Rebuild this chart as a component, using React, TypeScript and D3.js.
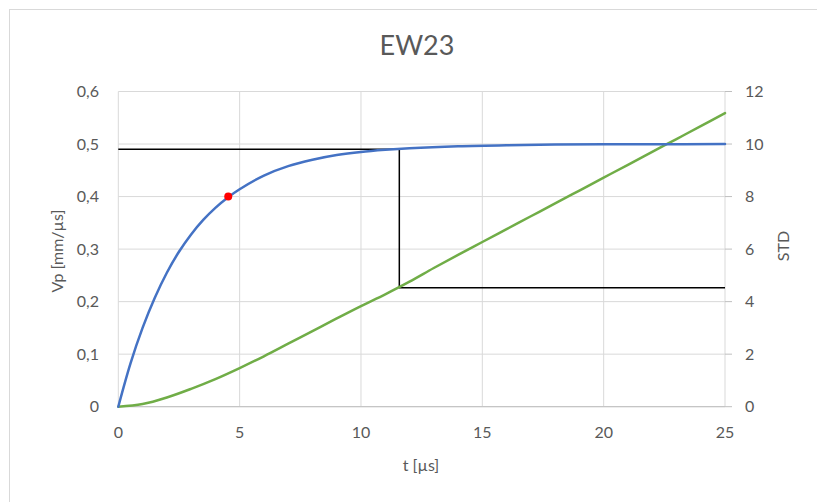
import React from "react";
import * as d3 from "d3";

const title = "EW23";
const xLabel = "t [µs]";
const yLeftLabel = "Vp  [mm/µs]";
const yRightLabel = "STD";

const xTicks = [0, 5, 10, 15, 20, 25];
const yLeftTicks = [0, 0.1, 0.2, 0.3, 0.4, 0.5, 0.6];
const yRightTicks = [0, 2, 4, 6, 8, 10, 12];

// Vp series (blue)
const vpT = [0, 0.5, 1, 1.5, 2, 2.5, 3, 3.5, 4, 4.5, 5, 6, 7, 8, 9, 10, 11, 12, 14, 16, 18, 20, 22, 25];
const vpV = [0, 0.082, 0.15, 0.207, 0.255, 0.295, 0.328, 0.3556, 0.3786, 0.3979, 0.414, 0.44, 0.458, 0.47, 0.479, 0.485, 0.489, 0.492, 0.4958, 0.4978, 0.4989, 0.4994, 0.4997, 0.4999];

// STD series (green, right axis)
const stdT = [0, 1, 2, 3, 4, 5, 6, 7, 8, 9, 10, 11, 12, 13, 14, 15, 16, 17, 18, 19, 20, 21, 22, 23, 24, 25];
const stdV = [0, 0.1, 0.35, 0.68, 1.05, 1.47, 1.92, 2.4, 2.88, 3.36, 3.83, 4.28, 4.76, 5.28, 5.78, 6.27, 6.76, 7.25, 7.74, 8.23, 8.72, 9.21, 9.7, 10.19, 10.68, 11.18];

// Black step marker line (left axis units)
const stepT = [0, 11.58, 11.58, 25];
const stepV = [0.49, 0.49, 0.2265, 0.2265];

// Red point
const pointT = [4.53];
const pointV = [0.4];

const W = 817;
const H = 502;
const FONT = "Lato, 'Open Sans', 'Liberation Sans', sans-serif";
const TXT = "#595959";

export default function App() {
  const x = d3.scaleLinear().domain([0, 25]).range([118.3, 725]);
  const yL = d3.scaleLinear().domain([0, 0.6]).range([406.7, 91.5]);
  const yR = d3.scaleLinear().domain([0, 12]).range([406.7, 91.5]);

  const vpLine = d3
    .line<number>()
    .x((_, i) => x(vpT[i]))
    .y((d) => yL(d))
    .curve(d3.curveCatmullRom.alpha(0.5));
  const stdLine = d3
    .line<number>()
    .x((_, i) => x(stdT[i]))
    .y((d) => yR(d))
    .curve(d3.curveCatmullRom.alpha(0.5));
  const stepLine = d3
    .line<number>()
    .x((_, i) => x(stepT[i]))
    .y((d) => yL(d));

  const fmt = (v: number) => String(Math.round(v * 10) / 10).replace(".", ",");

  return (
    <svg
      width={W}
      height={H}
      style={{ position: "absolute", left: 0, top: 0, display: "block", background: "#fff" }}
    >
      <rect x={9.5} y={9.5} width={900} height={600} fill="#fff" stroke="#d9d9d9" />
      <text x={417} y={55} textAnchor="middle" fontFamily={FONT} fontSize={27} fill={TXT}>
        {title}
      </text>

      {/* grid */}
      {xTicks.map((t) => (
        <line key={"gx" + t} x1={x(t)} x2={x(t)} y1={yL(0.6)} y2={yL(0)} stroke="#d9d9d9" strokeWidth={1} />
      ))}
      {yLeftTicks.map((v) => (
        <line key={"gy" + v} x1={x(0)} x2={x(25)} y1={yL(v)} y2={yL(v)} stroke="#d9d9d9" strokeWidth={1} />
      ))}
      <line x1={x(0)} x2={x(25)} y1={yL(0)} y2={yL(0)} stroke="#bfbfbf" strokeWidth={1} />
      {yRightTicks.map((v) => (
        <line key={"rt" + v} x1={x(25)} x2={x(25) + 7} y1={yR(v)} y2={yR(v)} stroke="#bfbfbf" strokeWidth={1} />
      ))}

      {/* tick labels */}
      {yLeftTicks.map((v) => (
        <text key={"ly" + v} x={99} y={yL(v) + 5.5} textAnchor="end" fontFamily={FONT} fontSize={16} fill={TXT}>
          {fmt(v)}
        </text>
      ))}
      {yRightTicks.map((v) => (
        <text key={"ry" + v} x={745} y={yR(v) + 5.5} textAnchor="start" fontFamily={FONT} fontSize={16} fill={TXT}>
          {v}
        </text>
      ))}
      {xTicks.map((t) => (
        <text key={"lx" + t} x={x(t)} y={438} textAnchor="middle" fontFamily={FONT} fontSize={16} fill={TXT}>
          {t}
        </text>
      ))}

      {/* axis titles */}
      <text x={421} y={471} textAnchor="middle" fontFamily={FONT} fontSize={16} fill={TXT}>
        {xLabel}
      </text>
      <text
        transform={`translate(63,${yL(0.3) + 2}) rotate(-90)`}
        textAnchor="middle"
        fontFamily={FONT}
        fontSize={16}
        fill={TXT}
      >
        {yLeftLabel}
      </text>
      <text
        transform={`translate(789,${yR(6) - 3}) rotate(-90)`}
        textAnchor="middle"
        fontFamily={FONT}
        fontSize={16}
        fill={TXT}
      >
        {yRightLabel}
      </text>

      {/* series */}
      <path d={stepLine(stepV) || ""} fill="none" stroke="#000" strokeWidth={1.5} />
      <path d={stdLine(stdV) || ""} fill="none" stroke="#70AD47" strokeWidth={2.5} strokeLinecap="round" />
      <path d={vpLine(vpV) || ""} fill="none" stroke="#4472C4" strokeWidth={2.5} strokeLinecap="round" />
      {pointV.map((v, i) => (
        <circle key={"p" + i} cx={x(pointT[i])} cy={yL(v)} r={4} fill="#FF0000" />
      ))}
    </svg>
  );
}
